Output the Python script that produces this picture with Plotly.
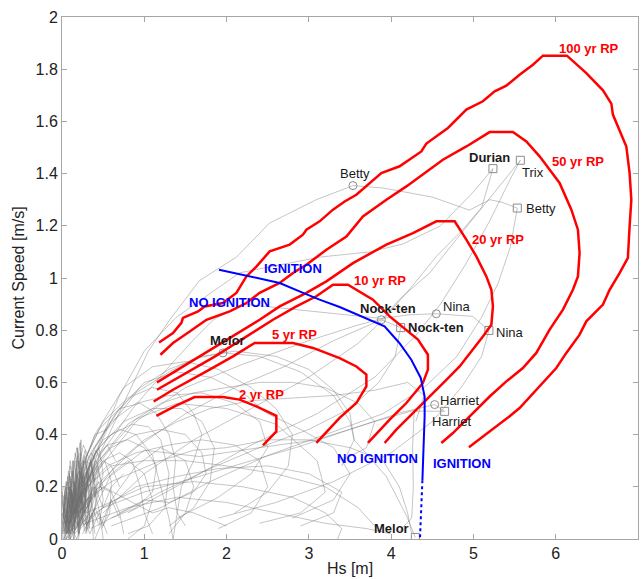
import plotly.graph_objects as go

# ---------------- return-period contours (Hs [m], current speed [m/s]) ----------------
rp100_hs = [1.179,1.349,1.451,1.470,1.653,1.734,1.956,2.119,2.241,2.362,2.524,2.767,2.928,2.970,3.131,3.293,3.435,3.577,3.881,4.103,
            4.367,4.428,4.690,4.914,5.115,5.258,5.400,5.561,5.723,5.845,6.136,6.372,6.574,6.676,6.695,6.776,6.858,6.898,6.919,6.898,
            6.877,6.776,6.655,6.574,6.372,6.290,6.129,6.007,5.764,5.561,5.440,5.278,5.115,4.945]
rp100_cur = [0.753,0.789,0.828,0.847,0.872,0.891,0.904,0.943,1.006,1.044,1.102,1.128,1.166,1.185,1.217,1.262,1.293,1.319,1.402,1.428,
             1.485,1.515,1.575,1.645,1.677,1.715,1.737,1.779,1.817,1.852,1.852,1.785,1.719,1.668,1.626,1.562,1.504,1.402,1.300,1.198,
             1.077,1.019,0.955,0.898,0.834,0.783,0.713,0.655,0.572,0.502,0.470,0.431,0.393,0.352]

rp50_hs = [1.196,1.349,1.552,1.755,2.038,2.241,2.402,2.645,2.807,2.970,3.213,3.456,3.657,3.942,4.185,4.386,4.629,4.914,5.197,5.480,
           5.643,5.804,6.047,6.190,6.270,6.290,6.270,6.209,6.088,5.926,5.764,5.601,5.400,5.197,5.035,4.751,4.610]
rp50_cur = [0.706,0.751,0.795,0.840,0.872,0.904,0.943,0.981,1.019,1.051,1.108,1.159,1.236,1.300,1.351,1.396,1.453,1.504,1.559,1.559,
            1.523,1.466,1.364,1.262,1.185,1.096,1.006,0.955,0.879,0.802,0.713,0.655,0.604,0.546,0.495,0.406,0.368]

rp20_hs = [1.154,1.673,2.038,2.402,2.645,2.970,3.213,3.536,3.942,4.265,4.549,4.772,4.914,5.035,5.157,5.218,5.237,5.218,5.115,4.994,
           4.832,4.671,4.508,4.265,4.063,3.921]
rp20_cur = [0.600,0.700,0.770,0.840,0.891,0.943,0.987,1.057,1.128,1.172,1.217,1.217,1.147,1.083,1.006,0.955,0.891,0.821,0.776,0.725,
            0.661,0.610,0.559,0.483,0.419,0.368]

rp10_hs = [1.154,1.855,2.564,2.848,3.091,3.293,3.475,3.779,3.982,4.185,4.326,4.447,4.447,4.386,4.185,3.982,3.718]
rp10_cur = [0.572,0.699,0.840,0.891,0.930,0.974,0.974,0.917,0.853,0.802,0.764,0.706,0.649,0.598,0.521,0.457,0.368]

rp5_hs = [1.114,1.349,1.755,2.078,2.341,2.807,3.050,3.253,3.374,3.577,3.699,3.699,3.577,3.374,3.091]
rp5_cur = [0.527,0.572,0.642,0.700,0.751,0.751,0.732,0.706,0.693,0.661,0.630,0.585,0.521,0.464,0.368]

rp2_hs = [1.147,1.380,1.612,1.956,2.159,2.362,2.605,2.605,2.442]
rp2_cur = [0.472,0.510,0.544,0.544,0.534,0.508,0.472,0.412,0.359]

rp_labels = ["100 yr RP", "50 yr RP", "20 yr RP", "10 yr RP", "5 yr RP", "2 yr RP"]
rp_label_hs = [6.41, 6.27, 5.294, 3.87, 2.828, 2.43]
rp_label_cur = [1.880, 1.447, 1.147, 0.99, 0.784, 0.553]

# ---------------- ignition boundary ----------------
ign_hs = [1.908,2.645,2.93,3.13,3.374,3.92,4.10,4.245,4.36,4.407,4.407,4.39,4.38]
ign_cur = [1.032,0.981,0.943,0.917,0.889,0.815,0.751,0.687,0.617,0.546,0.470,0.342,0.225]
ign_dot_hs = [4.38, 4.35]
ign_dot_cur = [0.225, 0.0]

ign_labels = ["IGNITION", "NO IGNITION", "NO IGNITION", "IGNITION"]
ign_label_hs = [2.81, 2.03, 3.83, 4.86]
ign_label_cur = [1.037, 0.907, 0.310, 0.291]

# ---------------- named storm peaks ----------------
circ_names = ["Betty", "Nina", "Nock-ten", "Harriet", "Melor"]
circ_hs = [3.536, 4.549, 3.881, 4.529, 1.956]
circ_cur = [1.354, 0.863, 0.840, 0.515, 0.713]
sq_names = ["Durian", "Trix", "Betty", "Nina", "Nock-ten", "Harriet", "Melor"]
sq_hs = [5.237, 5.570, 5.533, 5.188, 4.116, 4.65, 4.294]
sq_cur = [1.419, 1.451, 1.268, 0.799, 0.810, 0.489, 0.006]

storm_labels = ["Betty", "Durian", "Trix", "Betty", "Nina", "Nina", "Nock-ten", "Nock-ten", "Harriet", "Harriet", "Melor", "Melor"]
storm_label_hs = [3.557, 5.19, 5.72, 5.825, 4.796, 5.45, 3.96, 4.55, 4.83, 4.73, 2.01, 4.006]
storm_label_cur = [1.40, 1.463, 1.405, 1.266, 0.89, 0.792, 0.884, 0.811, 0.532, 0.452, 0.761, 0.039]
storm_label_bold = [False, True, False, False, False, False, True, True, False, False, True, True]

# ---------------- storm tracks (Hs, current) ----------------
betty = [(0.05,0.02),(0.2,0.15),(0.45,0.32),(0.8,0.55),(1.05,0.72),(1.31,0.84),(1.67,0.99),(2.12,1.08),(2.52,1.21),(3.09,1.30),
         (3.536,1.354),(3.9,1.345),(4.5,1.31),(4.95,1.26),(5.2,1.30),(5.35,1.29),(5.533,1.268),(5.45,1.12),(5.3,0.98),(5.1,0.85),
         (4.8,0.70),(4.4,0.58),(3.9,0.48),(3.2,0.40),(2.5,0.32),(1.8,0.22),(1.2,0.12),(0.6,0.05)]
durian = [(0.05,0.02),(0.3,0.25),(0.7,0.55),(1.0,0.72),(1.39,0.85),(2.16,1.02),(3.13,1.08),(3.74,1.10),(4.14,1.13),(4.6,1.2),
          (5.0,1.33),(5.237,1.419),(5.22,1.40),(5.10,1.27),(4.87,1.185),(4.55,1.083),(4.22,0.955),(3.90,0.84),(3.6,0.75),(3.0,0.62),
          (2.3,0.5),(1.6,0.38),(1.0,0.25),(0.5,0.1)]
trix = [(0.05,0.03),(0.4,0.25),(0.9,0.45),(1.5,0.58),(2.2,0.67),(3.0,0.76),(3.6,0.82),(3.9,0.845),(4.10,0.918),(4.47,1.02),
        (4.79,1.147),(5.16,1.29),(5.48,1.415),(5.57,1.451),(5.45,1.38),(5.2,1.22),(4.9,1.05),(4.6,0.9),(4.3,0.78),(3.8,0.62),
        (3.1,0.48),(2.3,0.36),(1.5,0.22),(0.8,0.1)]
nina = [(0.05,0.05),(0.46,0.32),(0.86,0.5),(1.27,0.65),(1.59,0.76),(1.84,0.84),(2.2,0.9),(2.8,0.88),(3.4,0.86),(3.88,0.845),
        (4.22,0.859),(4.549,0.863),(4.99,0.853),(5.188,0.799),(5.1,0.7),(4.85,0.58),(4.5,0.45),(4.0,0.33),(3.3,0.22),(2.6,0.14),(1.9,0.08)]
nockten = [(0.05,0.02),(0.4,0.2),(0.9,0.35),(1.5,0.48),(2.1,0.58),(2.7,0.66),(3.3,0.76),(3.881,0.840),(4.116,0.810),(4.05,0.7),
           (3.85,0.6),(3.5,0.5),(3.0,0.42),(2.4,0.35),(1.8,0.27),(1.2,0.18),(0.6,0.08)]
harriet = [(0.05,0.02),(0.5,0.12),(1.0,0.18),(1.67,0.24),(2.3,0.3),(2.89,0.355),(3.5,0.42),(4.10,0.483),(4.529,0.515),(4.65,0.489),
           (4.45,0.49),(4.28,0.49),(4.26,0.35),(4.27,0.2),(4.25,0.08),(4.1,0.03)]
melor = [(0.02,0.03),(0.25,0.22),(0.55,0.42),(0.9,0.56),(1.3,0.64),(1.6,0.69),(1.956,0.713),(2.4,0.7),(2.9,0.64),(3.3,0.55),
         (3.5,0.45),(3.55,0.38),(3.94,0.24),(4.19,0.087),(4.294,0.006)]

mid_tracks = [
    [(0.05,0.02),(0.2,0.18),(0.35,0.3),(0.5,0.38),(0.7,0.42),(0.9,0.4),(1.1,0.32),(1.2,0.2),(1.3,0.08),(1.35,0.0)],
    [(0.1,0.0),(0.25,0.2),(0.4,0.33),(0.6,0.4),(0.85,0.44),(1.05,0.43),(1.2,0.38),(1.3,0.25),(1.25,0.12),(1.05,0.05),(0.8,0.02)],
    [(0.05,0.05),(0.3,0.28),(0.55,0.36),(0.8,0.38),(1.0,0.35),(1.15,0.28),(1.1,0.18),(0.9,0.12),(0.6,0.08),(0.35,0.04)],
    [(0.1,0.03),(0.3,0.22),(0.5,0.3),(0.7,0.33),(0.85,0.3),(0.95,0.2),(1.0,0.1),(1.1,0.02)],
    [(0.02,0.05),(0.2,0.2),(0.45,0.35),(0.75,0.45),(1.1,0.5),(1.45,0.5),(1.7,0.45),(1.85,0.35),(1.8,0.22),(1.6,0.12),(1.3,0.05)],
    [(0.05,0.08),(0.3,0.3),(0.6,0.45),(0.9,0.52),(1.3,0.55),(1.7,0.56),(2.1,0.52),(2.4,0.45),(2.5,0.35),(2.3,0.25),(1.9,0.16),(1.4,0.08)],
    [(0.1,0.02),(0.35,0.25),(0.6,0.35),(0.9,0.4),(1.2,0.42),(1.5,0.4),(1.7,0.33),(1.75,0.25),(1.6,0.18),(1.3,0.14),(1.0,0.15),(0.7,0.1)],
    [(0.02,0.02),(0.25,0.18),(0.55,0.28),(0.9,0.33),(1.3,0.36),(1.7,0.38),(2.1,0.36),(2.4,0.3),(2.5,0.2),(2.3,0.1),(1.9,0.04)],
    [(0.05,0.1),(0.4,0.4),(0.75,0.58),(1.1,0.66),(1.5,0.68),(1.9,0.65),(2.3,0.58),(2.6,0.5),(2.8,0.4),(2.75,0.28),(2.5,0.18),(2.1,0.1)],
    [(0.1,0.05),(0.4,0.35),(0.7,0.5),(1.0,0.6),(1.4,0.64),(1.8,0.62),(2.2,0.56),(2.5,0.48),(2.9,0.42),(3.3,0.35),(3.5,0.25),(3.3,0.15),(2.8,0.08)],
    [(0.05,0.04),(0.3,0.2),(0.6,0.28),(1.0,0.3),(1.5,0.3),(2.0,0.28),(2.6,0.25),(3.2,0.2),(3.6,0.12),(3.8,0.05)],
    [(0.02,0.06),(0.2,0.25),(0.45,0.42),(0.7,0.5),(0.95,0.52),(1.15,0.48),(1.3,0.4),(1.38,0.3),(1.35,0.2),(1.4,0.1),(1.5,0.05)],
    [(0.1,0.1),(0.3,0.32),(0.5,0.45),(0.8,0.54),(1.1,0.58),(1.4,0.56),(1.6,0.48),(1.7,0.4),(1.6,0.3),(1.45,0.2),(1.4,0.1),(1.35,0.0)],
    [(0.05,0.0),(0.3,0.15),(0.6,0.22),(0.9,0.26),(1.2,0.3),(1.6,0.34),(2.0,0.35),(2.5,0.38),(3.0,0.38),(3.5,0.35),(3.9,0.3),(4.1,0.2),(4.2,0.1),(4.25,0.02)],
    [(0.15,0.02),(0.5,0.12),(0.9,0.2),(1.4,0.24),(1.9,0.27),(2.5,0.28),(3.0,0.25),(3.4,0.18),(3.3,0.1),(2.9,0.05)],
    [(0.05,0.06),(0.35,0.33),(0.65,0.48),(0.95,0.58),(1.3,0.65),(1.7,0.7),(2.1,0.72),(2.6,0.7),(3.0,0.65),(3.3,0.57),(3.5,0.48),(3.55,0.38),(3.4,0.28)],
    [(0.02,0.04),(0.4,0.28),(0.8,0.44),(1.2,0.52),(1.6,0.56),(2.0,0.58),(2.4,0.6),(2.8,0.6),(3.2,0.58),(3.6,0.52),(3.8,0.45),(3.7,0.35),(3.4,0.3)],
    [(0.1,0.0),(0.4,0.18),(0.7,0.3),(1.0,0.38),(1.4,0.45),(1.8,0.5),(2.3,0.53),(2.8,0.54),(3.3,0.55),(3.8,0.57),(4.2,0.6),(4.4,0.55),(4.3,0.45)],
    [(0.2,0.05),(0.8,0.12),(1.4,0.16),(2.0,0.14),(2.6,0.1),(3.2,0.06),(3.7,0.04),(4.0,0.02)],
    [(0.3,0.1),(1.0,0.2),(1.6,0.22),(2.2,0.2),(2.8,0.16),(3.2,0.1),(3.4,0.04),(3.35,0.0)],
    [(0.1,0.02),(0.5,0.22),(1.0,0.34),(1.67,0.316),(2.4,0.35),(3.09,0.38),(3.8,0.45),(4.31,0.496)],
    [(0.05,0.03),(0.45,0.3),(0.9,0.46),(1.4,0.52),(2.0,0.5),(2.6,0.44),(3.1,0.3),(3.2,0.18),(2.9,0.1),(2.4,0.06)],
    [(0.3,0.05),(0.6,0.25),(0.8,0.3),(1.0,0.25),(1.1,0.15),(1.0,0.05),(0.8,0.0)],
    [(0.4,0.0),(0.6,0.15),(0.9,0.28),(1.2,0.35),(1.5,0.3),(1.6,0.2),(1.5,0.1),(1.3,0.02)],
    [(0.2,0.1),(0.5,0.2),(0.8,0.15),(1.1,0.1),(1.3,0.12),(1.6,0.1),(2.0,0.05)],
]

cluster_tracks = [
    [(0.0,0.02),(0.05,0.1),(0.1,0.06),(0.15,0.18),(0.2,0.12),(0.25,0.25),(0.3,0.2),(0.4,0.3),(0.35,0.15),(0.2,0.05),(0.05,0.0)],
    [(0.02,0.0),(0.08,0.15),(0.12,0.08),(0.18,0.28),(0.22,0.37),(0.24,0.2),(0.3,0.26),(0.28,0.1),(0.15,0.03)],
    [(0.0,0.05),(0.06,0.18),(0.1,0.1),(0.14,0.22),(0.2,0.15),(0.27,0.32),(0.33,0.22),(0.45,0.35),(0.5,0.25),(0.4,0.12),(0.25,0.02)],
    [(0.01,0.12),(0.05,0.05),(0.09,0.2),(0.13,0.12),(0.17,0.3),(0.21,0.18),(0.26,0.1),(0.32,0.16),(0.3,0.04)],
    [(0.0,0.15),(0.04,0.08),(0.08,0.16),(0.12,0.04),(0.16,0.14),(0.2,0.08),(0.24,0.22),(0.3,0.3),(0.36,0.28),(0.42,0.18),(0.38,0.06)],
    [(0.03,0.03),(0.1,0.2),(0.16,0.1),(0.23,0.26),(0.28,0.15),(0.36,0.33),(0.44,0.28),(0.5,0.15),(0.45,0.05)],
    [(0.02,0.08),(0.07,0.02),(0.11,0.14),(0.15,0.06),(0.19,0.24),(0.23,0.16),(0.3,0.12),(0.38,0.2),(0.46,0.1),(0.5,0.0)],
    [(0.0,0.18),(0.03,0.1),(0.07,0.24),(0.1,0.15),(0.14,0.3),(0.18,0.22),(0.22,0.14),(0.28,0.2),(0.34,0.08),(0.28,0.02)],
    [(0.05,0.0),(0.12,0.1),(0.2,0.05),(0.26,0.18),(0.32,0.12),(0.4,0.24),(0.52,0.3),(0.6,0.22),(0.58,0.1),(0.48,0.04)],
    [(0.01,0.04),(0.06,0.12),(0.09,0.03),(0.13,0.17),(0.17,0.08),(0.21,0.2),(0.25,0.3),(0.28,0.34),(0.33,0.26),(0.29,0.16),(0.22,0.06)],
    [(0.02,0.1),(0.08,0.26),(0.12,0.2),(0.16,0.33),(0.2,0.27),(0.26,0.36),(0.34,0.3),(0.4,0.2),(0.34,0.1),(0.2,0.04)],
    [(0.0,0.0),(0.04,0.14),(0.07,0.06),(0.11,0.19),(0.15,0.1),(0.2,0.02),(0.25,0.12),(0.3,0.05),(0.36,0.1),(0.4,0.02)],
    [(0.02,0.2),(0.06,0.12),(0.1,0.28),(0.14,0.18),(0.18,0.1),(0.24,0.15),(0.3,0.08),(0.38,0.14),(0.44,0.22),(0.5,0.18)],
    [(0.0,0.08),(0.05,0.17),(0.1,0.24),(0.13,0.14),(0.19,0.32),(0.22,0.24),(0.28,0.3),(0.35,0.22),(0.42,0.28),(0.5,0.2)],
    [(0.01,0.06),(0.04,0.2),(0.08,0.1),(0.12,0.26),(0.16,0.16),(0.2,0.3),(0.24,0.18),(0.3,0.24),(0.37,0.12),(0.44,0.06)],
    [(0.03,0.0),(0.06,0.08),(0.09,0.18),(0.12,0.1),(0.15,0.22),(0.19,0.14),(0.23,0.28),(0.27,0.2),(0.35,0.26),(0.41,0.34),(0.48,0.3)],
    [(0.0,0.1),(0.1,0.02),(0.2,0.1),(0.3,0.03),(0.4,0.12),(0.5,0.05),(0.6,0.15),(0.7,0.08)],
    [(0.0,0.17),(0.1,0.12),(0.2,0.18),(0.3,0.1),(0.4,0.2),(0.5,0.12),(0.6,0.2),(0.75,0.25)],
    [(0.02,0.0),(0.1,0.05),(0.18,0.0),(0.26,0.08),(0.34,0.02),(0.45,0.1),(0.55,0.02)],
    [(0.0,0.12),(0.06,0.22),(0.12,0.16),(0.2,0.26),(0.3,0.18),(0.4,0.25),(0.5,0.3),(0.6,0.28),(0.7,0.2)],
    [(0.05,0.15),(0.1,0.3),(0.13,0.24),(0.18,0.35),(0.22,0.28),(0.3,0.32),(0.4,0.4),(0.55,0.42)],
    [(0.01,0.03),(0.15,0.08),(0.3,0.15),(0.45,0.2),(0.6,0.18),(0.7,0.1),(0.75,0.02)],
    [(0.2,0.0),(0.25,0.1),(0.3,0.2),(0.35,0.3),(0.4,0.22),(0.45,0.32),(0.55,0.36),(0.65,0.3)],
    [(0.08,0.0),(0.1,0.08),(0.14,0.0),(0.17,0.12),(0.2,0.04),(0.24,0.15),(0.3,0.06),(0.36,0.2)],
    [(0.04,0.0),(0.06,0.16),(0.08,0.02),(0.1,0.22),(0.12,0.05),(0.14,0.26),(0.16,0.08),(0.18,0.2),(0.2,0.01)],
    [(0.1,0.0),(0.12,0.18),(0.15,0.04),(0.17,0.27),(0.2,0.1),(0.22,0.33),(0.25,0.06),(0.27,0.24),(0.3,0.02)],
    [(0.0,0.03),(0.03,0.17),(0.05,0.02),(0.07,0.13),(0.09,0.0),(0.11,0.19),(0.13,0.03),(0.16,0.21),(0.19,0.05),(0.21,0.28)],
    [(0.2,0.02),(0.22,0.2),(0.24,0.08),(0.26,0.3),(0.28,0.12),(0.31,0.26),(0.33,0.04),(0.35,0.22),(0.38,0.0)],
    [(0.06,0.04),(0.09,0.25),(0.11,0.12),(0.13,0.3),(0.16,0.14),(0.19,0.35),(0.21,0.2),(0.23,0.38),(0.25,0.22)],
    [(0.02,0.02),(0.04,0.12),(0.06,0.05),(0.08,0.2),(0.1,0.07),(0.13,0.16),(0.15,0.02),(0.18,0.15),(0.21,0.02),(0.24,0.18),(0.27,0.03)],
    [(0.15,0.0),(0.18,0.16),(0.21,0.06),(0.24,0.24),(0.27,0.1),(0.3,0.28),(0.33,0.14),(0.36,0.3),(0.4,0.16),(0.44,0.26)],
    [(0.0,0.2),(0.02,0.08),(0.05,0.22),(0.08,0.06),(0.11,0.23),(0.14,0.09),(0.18,0.25),(0.22,0.1),(0.26,0.22),(0.3,0.14)],
]

named_tracks = [betty, durian, trix, nina, nockten, harriet, melor]

fig = go.Figure()

track_color = "rgba(110,110,110,0.5)"
for trk in cluster_tracks + mid_tracks + named_tracks:
    fig.add_trace(go.Scatter(x=[p[0] for p in trk], y=[p[1] for p in trk], mode="lines",
                             line=dict(color=track_color, width=0.8), hoverinfo="skip"))

fig.add_trace(go.Scatter(x=circ_hs, y=circ_cur, mode="markers",
                         marker=dict(symbol="circle-open", size=8, color="#8c8c8c", line=dict(width=1))))
fig.add_trace(go.Scatter(x=sq_hs, y=sq_cur, mode="markers",
                         marker=dict(symbol="square-open", size=8, color="#8c8c8c", line=dict(width=1))))

for hs, cur in [(rp100_hs, rp100_cur), (rp50_hs, rp50_cur), (rp20_hs, rp20_cur),
                (rp10_hs, rp10_cur), (rp5_hs, rp5_cur), (rp2_hs, rp2_cur)]:
    fig.add_trace(go.Scatter(x=hs, y=cur, mode="lines", line=dict(color="#ff0000", width=2.5)))

fig.add_trace(go.Scatter(x=ign_hs, y=ign_cur, mode="lines", line=dict(color="#0000ff", width=2)))
fig.add_trace(go.Scatter(x=ign_dot_hs, y=ign_dot_cur, mode="lines", line=dict(color="#0000ff", width=2, dash="dot")))

font_fam = "Liberation Sans, Arial, sans-serif"
ann = []
for t, x, y in zip(rp_labels, rp_label_hs, rp_label_cur):
    ann.append(dict(x=x, y=y, text="<b>%s</b>" % t, showarrow=False, font=dict(color="#ff0000", size=13, family=font_fam)))
for t, x, y in zip(ign_labels, ign_label_hs, ign_label_cur):
    ann.append(dict(x=x, y=y, text="<b>%s</b>" % t, showarrow=False, font=dict(color="#0000ff", size=13, family=font_fam)))
for t, x, y, b in zip(storm_labels, storm_label_hs, storm_label_cur, storm_label_bold):
    ann.append(dict(x=x, y=y, text=("<b>%s</b>" % t) if b else t, showarrow=False,
                    font=dict(color="#1a1a1a", size=13, family=font_fam)))

axis_common = dict(showgrid=False, zeroline=False, showline=True, linecolor="#a6a6a6", linewidth=1,
                   mirror="allticks", ticks="inside", ticklen=5, tickcolor="#a6a6a6", automargin=False,
                   tickfont=dict(size=16, color="#222222", family=font_fam))

fig.update_layout(
    width=641, height=579,
    margin=dict(l=62, r=3, t=17, b=40),
    paper_bgcolor="white", plot_bgcolor="white",
    showlegend=False,
    annotations=ann,
    xaxis=dict(range=[0, 7], dtick=1, title=dict(text="Hs [m]", standoff=1,
               font=dict(size=16, color="#222222", family=font_fam)), **axis_common),
    yaxis=dict(range=[0, 2], dtick=0.2, title=dict(text="Current Speed [m/s]", standoff=6,
               font=dict(size=16, color="#222222", family=font_fam)), **axis_common),
)

fig.write_html("out.html", config={"displayModeBar": False},
               post_script="document.body.style.margin='0px';document.body.style.overflow='hidden';")
